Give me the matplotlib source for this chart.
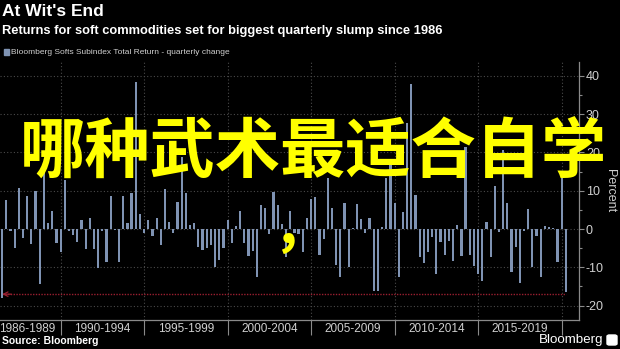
import matplotlib
matplotlib.use("Agg")
import matplotlib.pyplot as plt
import matplotlib.patches as mpatches
from matplotlib import font_manager
import pandas as pd
import datetime as dt

# ---------------- data ----------------
start_quarter = "1986Q2"
quarterly_change = [
    -18.1, 7.6, -0.4, -5.0, 10.8, -2.4, 8.7, -4.0, 10.0, -14.3,
    15.4, 1.5, 4.8, -3.7, -6.1, 12.8, -0.5, -1.5, -3.5, 2.3,
    -5.3, 2.8, -5.3, -10.3, -0.4, -8.5, 8.6, -0.3, -8.5, 8.6,
    1.5, 9.3, 38.3, 3.8, -1.0, 2.3, -1.7, 2.8, -4.2, 10.4,
    1.9, -1.1, 7.1, 18.8, 9.3, 1.0, 1.5, -4.6, -5.5, -5.0,
    -4.1, -9.8, -8.1, -4.9, 2.3, -3.7, 0.8, 4.8, -3.7, -7.0,
    -5.7, -12.6, 6.3, 5.4, -1.4, 9.7, 6.3, 1.2, -7.2, 4.7,
    -1.0, -1.4, -6.0, 3.0, 7.9, 8.4, -6.9, -2.6, 13.3, 5.4,
    -9.5, -12.6, 6.9, -9.8, 0.3, 6.4, 2.6, -1.1, 3.0, -16.1,
    -16.1, 0.4, 13.2, 18.2, 6.9, -12.4, 4.5, 27.6, 37.8, 8.9,
    -7.4, -8.8, -5.9, -2.2, -11.7, -3.3, -6.8, -3.0, -8.3, 1.0,
    -7.0, 21.3, -6.8, -9.6, -11.7, -13.5, 1.7, -7.4, 11.2, -0.9,
    20.6, 6.9, -11.1, -4.8, -14.2, -0.5, 5.2, -10.0, -1.8, -12.4,
    0.8, 0.4, 0.2, -8.5, 14.1, -16.4,
]
reference_level = -17
period_labels = ["1986-1989", "1990-1994", "1995-1999", "2000-2004",
                 "2005-2009", "2010-2014", "2015-2019"]
period_label_years = [1988.0, 1992.5, 1997.5, 2002.5, 2007.5, 2012.5, 2017.5]
separator_years = [1990, 1995, 2000, 2005, 2010, 2015, 2020]
y_ticks = [-20, -10, 0, 10, 20, 30, 40]

title = "At Wit's End"
subtitle = "Returns for soft commodities set for biggest quarterly slump since 1986"
legend_label = "Bloomberg Softs Subindex Total Return - quarterly change"
source = "Source: Bloomberg"
overlay_text = "哪种武术最适合自学"
overlay_comma = "，"

# ---------------- style ----------------
BG = "#000000"
BAR = "#7f93b3"
GRID = "#4a4a4a"
AXIS = "#8a8a8a"
TXT = "#d0d0d0"
RED = "#9a1f30"
YEL = "#ffff00"
LAT = "Liberation Sans"
_names = {f.name for f in font_manager.fontManager.ttflist}
NARROW = "Liberation Sans Narrow" if "Liberation Sans Narrow" in _names else LAT
CJK = ["Noto Sans CJK SC", "DejaVu Sans"]

dates = pd.period_range(start_quarter, periods=len(quarterly_change), freq="Q").end_time.normalize()
dates = [d.to_pydatetime() for d in dates]


def yr(y):
    """fractional year -> datetime"""
    year = int(y)
    frac = y - year
    return dt.datetime(year, 1, 1) + dt.timedelta(days=frac * 365.25)


fig = plt.figure(figsize=(6.2, 3.49), dpi=100, facecolor=BG)
ax = fig.add_axes([0.0, 1 - 320 / 349, 579 / 620, (320 - 62) / 349])
ax.set_facecolor(BG)

ax.bar(dates, quarterly_change, width=48, color=BAR, zorder=3)

ax.set_xlim(yr(1986.365), yr(2021.036))
ax.set_ylim(-23.74, 43.57)

# grid
ax.set_yticks(y_ticks)
ax.set_yticks(list(range(-20, 45, 5)), minor=True)
for y in y_ticks:
    ax.axhline(y, color=GRID, lw=0.8, ls=(0, (1, 2)), zorder=1)
for y in separator_years:
    ax.axvline(yr(y), color=GRID, lw=0.8, ls=(0, (1, 2)), zorder=1)

# spines
for s in ["left", "top"]:
    ax.spines[s].set_visible(False)
ax.spines["right"].set_color(AXIS)
ax.spines["bottom"].set_color(AXIS)
ax.spines["right"].set_linewidth(0.9)
ax.spines["bottom"].set_linewidth(0.9)

ax.yaxis.tick_right()
ax.yaxis.set_label_position("right")
ax.tick_params(axis="y", which="major", length=3.5, width=0.8, color=AXIS,
               labelcolor=TXT, labelsize=9, pad=1.5)
ax.tick_params(axis="y", which="minor", length=2.5, width=0.8, color=AXIS)
ax.set_yticklabels([str(t) for t in y_ticks], fontfamily=LAT)
ax.set_ylabel("Percent", rotation=270, color=TXT, fontsize=9, fontfamily=LAT,
              labelpad=9)

# x axis: separators as major ticks, labels as minor ticks
ax.set_xticks([yr(y) for y in separator_years])
ax.set_xticklabels([""] * len(separator_years))
ax.set_xticks([yr(y) for y in period_label_years], minor=True)
ax.set_xticklabels(period_labels, minor=True, fontfamily=LAT)
ax.tick_params(axis="x", which="major", length=11, width=0.8, color=AXIS)
ax.tick_params(axis="x", which="minor", length=0, labelcolor=TXT,
               labelsize=8.5, pad=2.5)

# reference arrow
ax.plot([dates[0], dates[-1]], [reference_level, reference_level],
        color=RED, lw=1.0, ls=(0, (1, 1)), zorder=2)
ax.annotate("", xy=(dates[0], reference_level),
            xytext=(dates[0] + dt.timedelta(days=200), reference_level),
            arrowprops=dict(arrowstyle="->", color=RED, lw=0.9,
                            shrinkA=0, shrinkB=7, mutation_scale=8),
            zorder=2)

# titles
fig.text(2 / 620, 1 - 12 / 349, title, color="white", fontsize=12.5,
         fontweight="bold", fontfamily=LAT, va="center", ha="left")
fig.text(2 / 620, 1 - 31 / 349, subtitle, color="white", fontsize=9.25,
         fontweight="bold", fontfamily=LAT, va="center", ha="left")
fig.patches.append(mpatches.Rectangle((4 / 620, 1 - 55 / 349), 5 / 620, 6 / 349,
                                      transform=fig.transFigure, color=BAR))
legend_size = 6.6 if NARROW != LAT else 6.0
fig.text(11 / 620, 1 - 52.5 / 349, legend_label, color=TXT, fontsize=legend_size,
         fontfamily=NARROW, va="center", ha="left")
fig.text(2 / 620, 1 - 341 / 349, source, color="white", fontsize=7.5,
         fontweight="bold", fontfamily=LAT, va="center", ha="left")
fig.text(603 / 620, 1 - 340 / 349, "Bloomberg", color="white", fontsize=9.6,
         fontfamily=LAT, va="center", ha="right")
fig.patches.append(mpatches.FancyBboxPatch((607 / 620, 1 - 345 / 349), 10 / 620, 10 / 349,
                                           boxstyle="round,pad=0,rounding_size=0.004",
                                           transform=fig.transFigure, color="white"))

# overlay
fig.text(313.5 / 620, 1 - 153 / 349, overlay_text, color=YEL, fontsize=47,
         fontweight="bold", family=CJK, va="center", ha="center", zorder=10)
fig.text(300 / 620, 1 - 230 / 349, overlay_comma, color=YEL, fontsize=40,
         fontweight="bold", family=CJK, va="center", ha="center", zorder=10)

fig.savefig("out.png", dpi=100, facecolor=BG)
